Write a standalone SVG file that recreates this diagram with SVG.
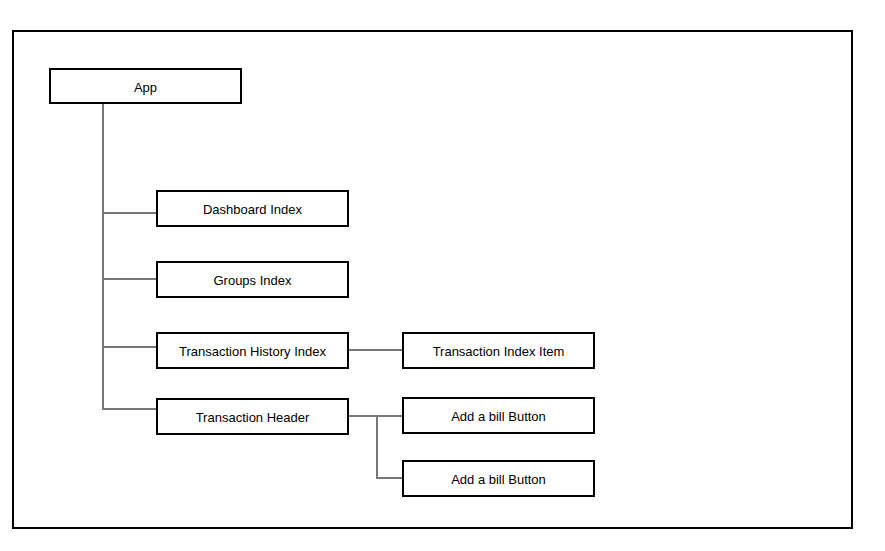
<svg xmlns="http://www.w3.org/2000/svg" width="885" height="551" viewBox="0 0 885 551">
<style>
.box{fill:#fff;stroke:#000;stroke-width:2}
.lbl{font-family:"Liberation Sans",Arial,sans-serif;font-size:13px;fill:#000;text-anchor:middle;dominant-baseline:central}
.c{fill:none;stroke:#777;stroke-width:2}
</style>
<rect x="0" y="0" width="885" height="551" fill="#fff"/>
<rect id="frame" x="13" y="31" width="839" height="497" fill="none" stroke="#000" stroke-width="2"/>
<g id="connectors">
<path class="c" d="M103,103 V409 H157"/>
<path class="c" d="M103,213 H157"/>
<path class="c" d="M103,279 H157"/>
<path class="c" d="M103,347 H157"/>
<path class="c" d="M348,350 H403"/>
<path class="c" d="M348,416 H403"/>
<path class="c" d="M377,416 V478 H403"/>
</g>
<g id="app"><rect class="box" x="50" y="69" width="191" height="34"/><text class="lbl" x="145.5" y="87">App</text></g>
<g id="dashboard"><rect class="box" x="157" y="191" width="191" height="35"/><text class="lbl" x="252.5" y="209">Dashboard Index</text></g>
<g id="groups"><rect class="box" x="157" y="262" width="191" height="35"/><text class="lbl" x="252.5" y="280">Groups Index</text></g>
<g id="history"><rect class="box" x="157" y="333" width="191" height="35"/><text class="lbl" x="252.5" y="351">Transaction History Index</text></g>
<g id="header"><rect class="box" x="157" y="399" width="191" height="35"/><text class="lbl" x="252.5" y="417">Transaction Header</text></g>
<g id="item"><rect class="box" x="403" y="333" width="191" height="35"/><text class="lbl" x="498.5" y="351">Transaction Index Item</text></g>
<g id="bill1"><rect class="box" x="403" y="398" width="191" height="35"/><text class="lbl" x="498.5" y="416">Add a bill Button</text></g>
<g id="bill2"><rect class="box" x="403" y="461" width="191" height="35"/><text class="lbl" x="498.5" y="479">Add a bill Button</text></g>
</svg>
